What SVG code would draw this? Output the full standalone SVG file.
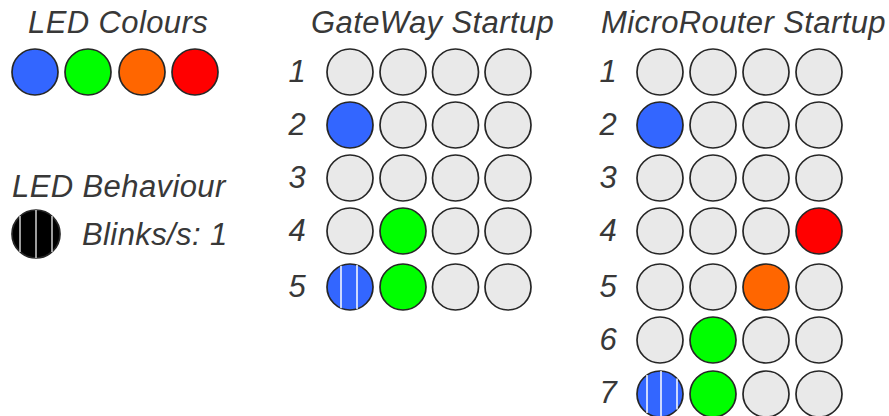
<svg xmlns="http://www.w3.org/2000/svg" width="889" height="416" viewBox="0 0 889 416">
  <style>
    .lbl { font-family: "Liberation Sans", Arial, sans-serif; font-style: italic; font-size: 31px; letter-spacing: 0.4px; fill: #383838; }
    .num { text-anchor: middle; letter-spacing: 0; }
    .led { stroke: #262626; stroke-width: 1.7; }
    .off { fill: #e9e9e9; }
    .blue { fill: #3366ff; }
    .green { fill: #00ff00; }
    .orange { fill: #ff6600; }
    .red { fill: #ff0000; }
    .black { fill: #000000; }
    .stripe { stroke: #ffffff; stroke-width: 1.5; }
    .stripe-dark { stroke: #d0d0d0; stroke-width: 1.5; }
  </style>

  <rect width="889" height="416" fill="#ffffff"/>

  <!-- Legend: LED colours -->
  <g id="legend-colours">
    <text class="lbl" x="28" y="33">LED Colours</text>
    <circle class="led blue" cx="35" cy="72" r="23"/>
    <circle class="led green" cx="88" cy="72" r="23"/>
    <circle class="led orange" cx="142" cy="72" r="23"/>
    <circle class="led red" cx="195" cy="72" r="23"/>
  </g>

  <!-- Legend: blink behaviour -->
  <g id="legend-behaviour">
    <text class="lbl" x="12" y="197">LED Behaviour</text>
    <circle class="led black" cx="36" cy="234" r="24"/>
    <line class="stripe-dark" x1="20" y1="216.1" x2="20" y2="251.9"/>
    <line class="stripe-dark" x1="36" y1="210" x2="36" y2="258"/>
    <line class="stripe-dark" x1="52" y1="216.1" x2="52" y2="251.9"/>
    <text class="lbl" x="82" y="245">Blinks/s: 1</text>
  </g>

  <!-- GateWay startup sequence -->
  <g id="gateway">
    <text class="lbl" x="311" y="33">GateWay Startup</text>
    <g id="gw-row1">
      <text class="lbl num" x="297" y="82">1</text>
      <circle class="led off" cx="350" cy="72" r="23"/>
      <circle class="led off" cx="403" cy="72" r="23"/>
      <circle class="led off" cx="455.5" cy="72" r="23"/>
      <circle class="led off" cx="508" cy="72" r="23"/>
    </g>
    <g id="gw-row2">
      <text class="lbl num" x="297" y="135">2</text>
      <circle class="led blue" cx="350" cy="125" r="23"/>
      <circle class="led off" cx="403" cy="125" r="23"/>
      <circle class="led off" cx="455.5" cy="125" r="23"/>
      <circle class="led off" cx="508" cy="125" r="23"/>
    </g>
    <g id="gw-row3">
      <text class="lbl num" x="297" y="188">3</text>
      <circle class="led off" cx="350" cy="178" r="23"/>
      <circle class="led off" cx="403" cy="178" r="23"/>
      <circle class="led off" cx="455.5" cy="178" r="23"/>
      <circle class="led off" cx="508" cy="178" r="23"/>
    </g>
    <g id="gw-row4">
      <text class="lbl num" x="297" y="241">4</text>
      <circle class="led off" cx="350" cy="231" r="23"/>
      <circle class="led green" cx="403" cy="231" r="23"/>
      <circle class="led off" cx="455.5" cy="231" r="23"/>
      <circle class="led off" cx="508" cy="231" r="23"/>
    </g>
    <g id="gw-row5">
      <text class="lbl num" x="297" y="297">5</text>
      <circle class="led blue" cx="350" cy="287" r="23"/>
      <line class="stripe" x1="341" y1="265.8" x2="341" y2="308.2"/>
      <line class="stripe" x1="357" y1="265.1" x2="357" y2="308.9"/>
      <circle class="led green" cx="403" cy="287" r="23"/>
      <circle class="led off" cx="455.5" cy="287" r="23"/>
      <circle class="led off" cx="508" cy="287" r="23"/>
    </g>
  </g>

  <!-- MicroRouter startup sequence -->
  <g id="microrouter">
    <text class="lbl" x="601" y="33">MicroRouter Startup</text>
    <g id="mr-row1">
      <text class="lbl num" x="608" y="82">1</text>
      <circle class="led off" cx="660" cy="72" r="23"/>
      <circle class="led off" cx="713" cy="72" r="23"/>
      <circle class="led off" cx="766" cy="72" r="23"/>
      <circle class="led off" cx="819" cy="72" r="23"/>
    </g>
    <g id="mr-row2">
      <text class="lbl num" x="608" y="135">2</text>
      <circle class="led blue" cx="660" cy="125" r="23"/>
      <circle class="led off" cx="713" cy="125" r="23"/>
      <circle class="led off" cx="766" cy="125" r="23"/>
      <circle class="led off" cx="819" cy="125" r="23"/>
    </g>
    <g id="mr-row3">
      <text class="lbl num" x="608" y="188">3</text>
      <circle class="led off" cx="660" cy="178" r="23"/>
      <circle class="led off" cx="713" cy="178" r="23"/>
      <circle class="led off" cx="766" cy="178" r="23"/>
      <circle class="led off" cx="819" cy="178" r="23"/>
    </g>
    <g id="mr-row4">
      <text class="lbl num" x="608" y="241">4</text>
      <circle class="led off" cx="660" cy="231" r="23"/>
      <circle class="led off" cx="713" cy="231" r="23"/>
      <circle class="led off" cx="766" cy="231" r="23"/>
      <circle class="led red" cx="819" cy="231" r="23"/>
    </g>
    <g id="mr-row5">
      <text class="lbl num" x="608" y="297">5</text>
      <circle class="led off" cx="660" cy="287" r="23"/>
      <circle class="led off" cx="713" cy="287" r="23"/>
      <circle class="led orange" cx="766" cy="287" r="23"/>
      <circle class="led off" cx="819" cy="287" r="23"/>
    </g>
    <g id="mr-row6">
      <text class="lbl num" x="608" y="350">6</text>
      <circle class="led off" cx="660" cy="340" r="23"/>
      <circle class="led green" cx="713" cy="340" r="23"/>
      <circle class="led off" cx="766" cy="340" r="23"/>
      <circle class="led off" cx="819" cy="340" r="23"/>
    </g>
    <g id="mr-row7">
      <text class="lbl num" x="608" y="403">7</text>
      <circle class="led blue" cx="660" cy="394" r="23"/>
      <line class="stripe" x1="647" y1="375" x2="647" y2="413"/>
      <line class="stripe" x1="661" y1="371" x2="661" y2="417"/>
      <line class="stripe" x1="677" y1="378.5" x2="677" y2="409.5"/>
      <circle class="led green" cx="713" cy="394" r="23"/>
      <circle class="led off" cx="766" cy="394" r="23"/>
      <circle class="led off" cx="819" cy="394" r="23"/>
    </g>
  </g>
</svg>
